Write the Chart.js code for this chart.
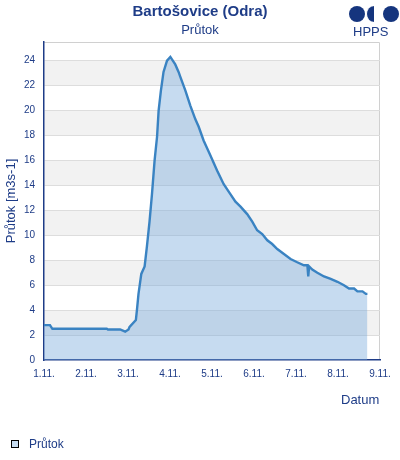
<!DOCTYPE html>
<html>
<head>
<meta charset="utf-8">
<script src="https://cdn.jsdelivr.net/npm/chart.js@4"></script>
<style>
  html, body { margin: 0; padding: 0; background: #fff; }
  #wrap { position: relative; width: 400px; height: 460px; font-family: "Liberation Sans", Arial, sans-serif; color: #1e3c87; }
  #wrap canvas { position: absolute; left: 0; top: 0; }
  .txt { position: absolute; white-space: nowrap; line-height: 1; }
  #title { left: 0; width: 400px; text-align: center; top: 3px; font-size: 15px; font-weight: bold; }
  #subtitle { left: 0; width: 400px; text-align: center; top: 23px; font-size: 13px; }
  #xtitle { left: 341px; top: 393px; font-size: 13px; }
  #legend { left: 11px; top: 438px; font-size: 12px; }
  #legend i { display: inline-block; width: 6px; height: 6px; border: 1px solid #000; background: #c6dbf0; margin-right: 10px; vertical-align: 0px; }
  .dot { position: absolute; background: #15357e; }
  #hpps { left: 353px; top: 25px; font-size: 13px; }
</style>
</head>
<body>
<div id="wrap">
  <canvas id="chart" width="400" height="460"></canvas>
  <div class="txt" id="title">Bartošovice (Odra)</div>
  <div class="txt" id="subtitle">Průtok</div>
  <div class="txt" id="xtitle">Datum</div>
  <div class="txt" id="legend"><i></i>Průtok</div>
  <div class="dot" style="left:349px;top:6px;width:16px;height:16px;border-radius:8px;"></div>
  <div class="dot" style="left:366px;top:6px;width:8px;height:16px;border-radius:8px 0 0 8px;border-left:1px solid #fff;box-sizing:border-box;"></div>
  <div class="dot" style="left:383px;top:6px;width:16px;height:16px;border-radius:8px;"></div>
  <div class="txt" id="hpps">HPPS</div>
</div>
<script>
// hours since 1.11. 00:00
const hours = [0, 3.4, 4.8, 20.6, 35.9, 36.5, 43.5, 46.4, 48.3, 48.9,
  52.5, 53.1, 54.0, 55.6, 57.5, 58.8, 60.3, 61.7, 63.2, 64.6,
  65.5, 66.8, 68.3, 70.3, 72.2, 75.0, 76.9, 77.9, 80.8, 83.6,
  86.5, 88.4, 91.2, 95.1, 98.9, 102.7, 106.5, 109.4, 112.3, 116.1,
  119.0, 121.8, 124.7, 127.6, 130.4, 133.3, 137.1, 140.9, 144.7, 148.5,
  150.5, 151.0, 151.5, 153.3, 156.2, 160.0, 163.8, 167.7, 171.4, 174.3,
  177.2, 179.1, 182.0, 183.9, 184.8];
// průtok [m3/s]
const flow = [2.8, 2.8, 2.5, 2.5, 2.5, 2.45, 2.45, 2.27, 2.45, 2.66,
  3.2, 4.0, 5.3, 6.9, 7.5, 9.1, 11.1, 13.3, 16.0, 17.9,
  20.0, 21.6, 23.1, 24.0, 24.3, 23.7, 23.1, 22.7, 21.6, 20.4,
  19.3, 18.7, 17.6, 16.4, 15.2, 14.1, 13.3, 12.7, 12.3, 11.7,
  11.1, 10.4, 10.1, 9.6, 9.3, 8.9, 8.5, 8.1, 7.84, 7.6,
  7.6, 6.7, 7.5, 7.25, 7.0, 6.7, 6.5, 6.27, 6.0, 5.73,
  5.73, 5.5, 5.5, 5.3, 5.3];
const dayLabels = ['1.11.', '2.11.', '3.11.', '4.11.', '5.11.', '6.11.', '7.11.', '8.11.', '9.11.'];

const navy = '#1e3c87';

// grey bands 2-4, 6-8, ... and light border on top/right
const bandsPlugin = {
    id: 'bands',
    beforeDraw(chart) {
        const { ctx, chartArea: a, scales: { y } } = chart;
        ctx.save();
        ctx.fillStyle = '#f2f2f2';
        for (let v = 2; v < 24; v += 4) {
            const top = y.getPixelForValue(v + 2);
            const bot = y.getPixelForValue(v);
            ctx.fillRect(a.left, top, a.right - a.left, bot - top);
        }
        ctx.strokeStyle = '#d0d0d0';
        ctx.lineWidth = 1;
        ctx.beginPath();
        ctx.moveTo(a.left, a.top + 0.5);
        ctx.lineTo(a.right - 0.5, a.top + 0.5);
        ctx.lineTo(a.right - 0.5, a.bottom);
        ctx.stroke();
        ctx.restore();
    }
};

new Chart(document.getElementById('chart'), {
    type: 'line',
    data: {
        datasets: [{
            label: 'Průtok',
            data: hours.map((h, i) => ({ x: h, y: flow[i] })),
            borderColor: '#3a83c2',
            borderWidth: 2.4,
            backgroundColor: 'rgba(120,170,220,0.42)',
            fill: 'origin',
            pointRadius: 0,
            tension: 0
        }]
    },
    options: {
        responsive: false,
        animation: false,
        layout: { padding: { left: 0, top: 42, right: 20, bottom: 0 } },
        plugins: { legend: { display: false }, tooltip: { enabled: false } },
        scales: {
            x: {
                type: 'linear',
                min: 0,
                max: 192,
                afterFit: (s) => { s.height = 100; },
                grid: { display: false, drawTicks: false },
                border: { color: navy, width: 1.5 },
                ticks: {
                    stepSize: 24,
                    padding: 8,
                    maxRotation: 0,
                    color: navy,
                    font: { family: 'Liberation Sans', size: 10 },
                    callback: (v) => dayLabels[v / 24]
                }
            },
            y: {
                min: 0,
                max: 25.5,
                afterFit: (s) => { s.width = 44; },
                grid: { color: (c) => c.tick.value === 0 ? 'rgba(0,0,0,0)' : '#dddddd', drawTicks: false },
                border: { color: navy, width: 1.5 },
                title: {
                    display: true,
                    text: 'Průtok [m3s-1]',
                    color: navy,
                    padding: { top: 4, bottom: 0 },
                    font: { family: 'Liberation Sans', size: 13 }
                },
                ticks: {
                    stepSize: 2,
                    includeBounds: false,
                    padding: 9,
                    color: navy,
                    font: { family: 'Liberation Sans', size: 10 }
                }
            }
        }
    },
    plugins: [bandsPlugin]
});
</script>
</body>
</html>
